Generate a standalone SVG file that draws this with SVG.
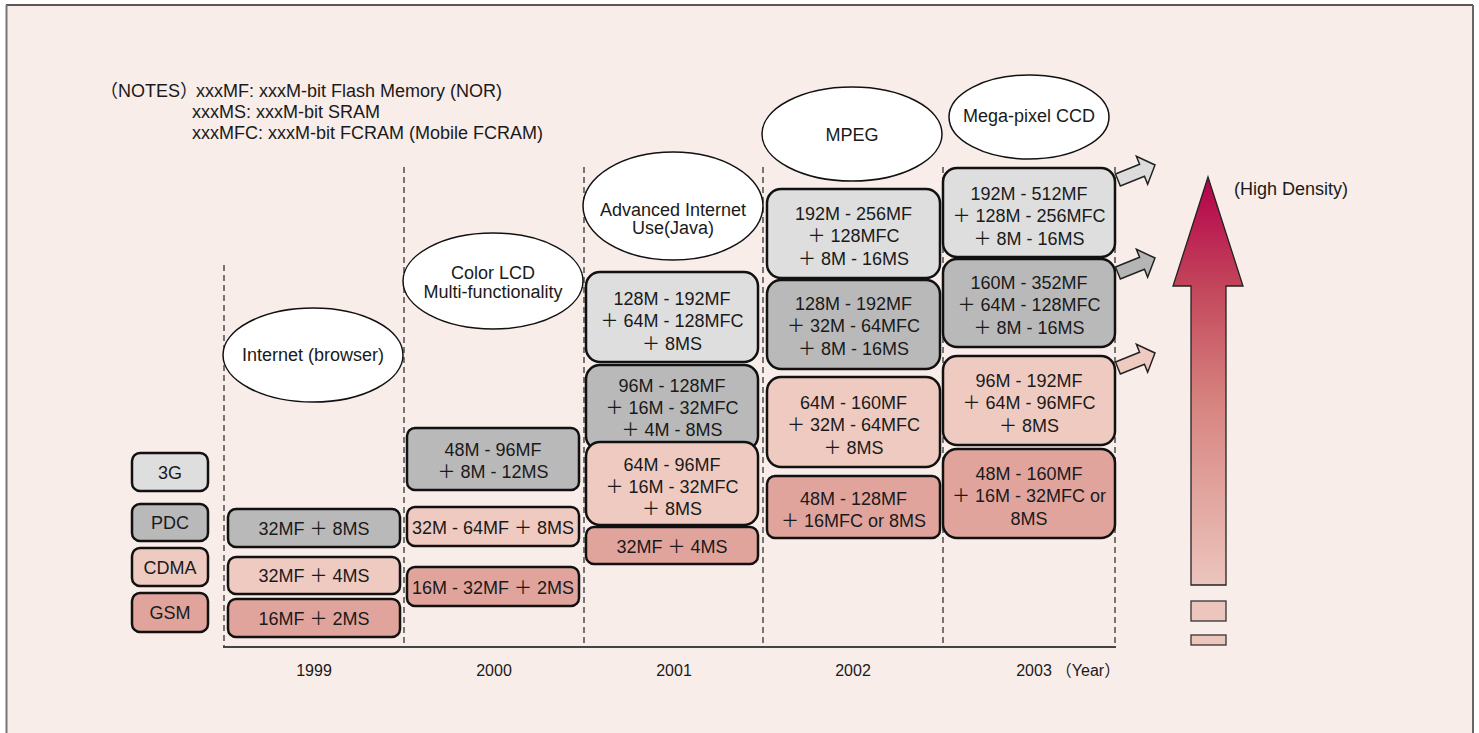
<svg xmlns="http://www.w3.org/2000/svg" width="1479" height="733" viewBox="0 0 1479 733">
<defs>
<style>
.t{font-family:"Liberation Sans","Noto Sans CJK JP",sans-serif;font-size:18px;fill:#1a1a1a}
.c{text-anchor:middle}
.yr{font-size:16px}
.box{stroke:#111;stroke-width:2.5}
.g3{fill:#dedede}
.pdc{fill:#b9b9b9}
.cdma{fill:#efcac1}
.gsm{fill:#e0a49d}
.ell{fill:#fff;stroke:#111;stroke-width:1.5}
.dash{stroke:#333;stroke-width:1.3;stroke-dasharray:6,4;fill:none}
.sa{stroke:#222;stroke-width:1.5}
</style>
<linearGradient id="grad" gradientUnits="userSpaceOnUse" x1="0" y1="177" x2="0" y2="585">
<stop offset="0" stop-color="#b4004a"/>
<stop offset="0.27" stop-color="#c3465b"/>
<stop offset="0.55" stop-color="#d7837f"/>
<stop offset="1" stop-color="#ecc5bd"/>
</linearGradient>
<path id="sarrow" d="M-40,-6.5 L-14,-6.5 L-14,-15 L0,0 L-14,15 L-14,6.5 L-40,6.5 Z"/>
</defs>
<rect x="0" y="0" width="1479" height="733" fill="#fff"/>
<rect x="6" y="5" width="1467" height="740" fill="#f8ede9"/>
<line x1="6" y1="5" x2="1473" y2="5" stroke="#222" stroke-width="1.5"/>
<line x1="6.5" y1="5" x2="6.5" y2="733" stroke="#777" stroke-width="2"/>
<line x1="1473" y1="5" x2="1473" y2="733" stroke="#666" stroke-width="2"/>

<g id="notes" class="t">
<text y="97"><tspan x="100">（NOTES）</tspan><tspan x="196">xxxMF: xxxM-bit Flash Memory (NOR)</tspan></text>
<text x="192" y="118">xxxMS: xxxM-bit SRAM</text>
<text x="192" y="139">xxxMFC: xxxM-bit FCRAM (Mobile FCRAM)</text>
</g>

<g id="connectors">
<line class="dash" x1="224" y1="265" x2="224" y2="647"/>
<line class="dash" x1="404" y1="167" x2="404" y2="647"/>
<line class="dash" x1="584" y1="167" x2="584" y2="647"/>
<line class="dash" x1="763" y1="167" x2="763" y2="647"/>
<line class="dash" x1="943" y1="167" x2="943" y2="647"/>
<line class="dash" x1="1115" y1="167" x2="1115" y2="647"/>
<line x1="223" y1="647" x2="1116" y2="647" stroke="#444" stroke-width="2"/>
</g>

<g id="years" class="t yr c">
<text x="314" y="676">1999</text>
<text x="494" y="676">2000</text>
<text x="674" y="676">2001</text>
<text x="853" y="676">2002</text>
<text x="1034" y="676">2003</text>
<text x="1088" y="676">（Year）</text>
</g>

<g id="legend-3g"><rect class="box g3" x="132" y="453" width="76" height="38" rx="8"/><text class="t c" x="170" y="478.5">3G</text></g>
<g id="legend-pdc"><rect class="box pdc" x="132" y="504" width="76" height="37" rx="8"/><text class="t c" x="170" y="529">PDC</text></g>
<g id="legend-cdma"><rect class="box cdma" x="132" y="548" width="76" height="38" rx="8"/><text class="t c" x="170" y="573.5">CDMA</text></g>
<g id="legend-gsm"><rect class="box gsm" x="132" y="593" width="76" height="39" rx="8"/><text class="t c" x="170" y="619">GSM</text></g>

<g id="ell-1999"><ellipse class="ell" cx="313" cy="355" rx="90" ry="47"/><text class="t c" x="313" y="361">Internet (browser)</text></g>
<g id="ell-2000"><ellipse class="ell" cx="493" cy="281" rx="90" ry="48"/><text class="t c" x="493" y="279">Color LCD</text><text class="t c" x="493" y="298">Multi-functionality</text></g>
<g id="ell-2001"><ellipse class="ell" cx="673" cy="206" rx="90" ry="54"/><text class="t c" x="673" y="216">Advanced Internet</text><text class="t c" x="673" y="234">Use(Java)</text></g>
<g id="ell-2002"><ellipse class="ell" cx="852" cy="134" rx="90" ry="47"/><text class="t c" x="852" y="140.5">MPEG</text></g>
<g id="ell-2003"><ellipse class="ell" cx="1029" cy="117" rx="80" ry="42"/><text class="t c" x="1029" y="122">Mega-pixel CCD</text></g>

<g id="b1999-pdc"><rect class="box pdc" x="228" y="509" width="172" height="38" rx="8"/><text class="t c" x="314" y="534.5">32MF ＋ 8MS</text></g>
<g id="b1999-cdma"><rect class="box cdma" x="228" y="557" width="172" height="37" rx="8"/><text class="t c" x="314" y="582">32MF ＋ 4MS</text></g>
<g id="b1999-gsm"><rect class="box gsm" x="228" y="599" width="172" height="38" rx="8"/><text class="t c" x="314" y="624.5">16MF ＋ 2MS</text></g>

<g id="b2000-pdc"><rect class="box pdc" x="407" y="428" width="172" height="62" rx="8"/><text class="t c" x="493" y="455.5">48M - 96MF</text><text class="t c" x="493" y="477.5">＋ 8M - 12MS</text></g>
<g id="b2000-cdma"><rect class="box cdma" x="407" y="507" width="172" height="39" rx="8"/><text class="t c" x="493" y="533.5">32M - 64MF ＋ 8MS</text></g>
<g id="b2000-gsm"><rect class="box gsm" x="407" y="567" width="172" height="39" rx="8"/><text class="t c" x="493" y="593.5">16M - 32MF ＋ 2MS</text></g>

<g id="b2001-3g"><rect class="box g3" x="586" y="272" width="172" height="90" rx="14"/><text class="t c" x="672" y="304.5">128M - 192MF</text><text class="t c" x="672" y="327">＋ 64M - 128MFC</text><text class="t c" x="672" y="349.5">＋ 8MS</text></g>
<g id="b2001-pdc"><rect class="box pdc" x="586" y="365" width="172" height="85" rx="14"/><text class="t c" x="672" y="391.5">96M - 128MF</text><text class="t c" x="672" y="413.5">＋ 16M - 32MFC</text><text class="t c" x="672" y="435.5">＋ 4M - 8MS</text></g>
<g id="b2001-cdma"><rect class="box cdma" x="586" y="442" width="172" height="83" rx="14"/><text class="t c" x="672" y="470.5">64M - 96MF</text><text class="t c" x="672" y="492.5">＋ 16M - 32MFC</text><text class="t c" x="672" y="514.5">＋ 8MS</text></g>
<g id="b2001-gsm"><rect class="box gsm" x="586" y="527" width="172" height="37" rx="8"/><text class="t c" x="672" y="552.5">32MF ＋ 4MS</text></g>

<g id="b2002-3g"><rect class="box g3" x="767" y="189" width="173" height="89" rx="14"/><text class="t c" x="853.5" y="219.5">192M - 256MF</text><text class="t c" x="853.5" y="242">＋ 128MFC</text><text class="t c" x="853.5" y="264.5">＋ 8M - 16MS</text></g>
<g id="b2002-pdc"><rect class="box pdc" x="767" y="280" width="173" height="89" rx="14"/><text class="t c" x="853.5" y="309.5">128M - 192MF</text><text class="t c" x="853.5" y="332">＋ 32M - 64MFC</text><text class="t c" x="853.5" y="354.5">＋ 8M - 16MS</text></g>
<g id="b2002-cdma"><rect class="box cdma" x="767" y="377" width="173" height="90" rx="14"/><text class="t c" x="853.5" y="408.5">64M - 160MF</text><text class="t c" x="853.5" y="431">＋ 32M - 64MFC</text><text class="t c" x="853.5" y="453.5">＋ 8MS</text></g>
<g id="b2002-gsm"><rect class="box gsm" x="767" y="476" width="173" height="62" rx="8"/><text class="t c" x="853.5" y="504.5">48M - 128MF</text><text class="t c" x="853.5" y="527">＋ 16MFC or 8MS</text></g>

<g id="b2003-3g"><rect class="box g3" x="943" y="168" width="172" height="89" rx="14"/><text class="t c" x="1029" y="199.5">192M - 512MF</text><text class="t c" x="1029" y="222">＋ 128M - 256MFC</text><text class="t c" x="1029" y="244.5">＋ 8M - 16MS</text></g>
<g id="b2003-pdc"><rect class="box pdc" x="943" y="259" width="172" height="88" rx="14"/><text class="t c" x="1029" y="288.5">160M - 352MF</text><text class="t c" x="1029" y="311">＋ 64M - 128MFC</text><text class="t c" x="1029" y="333.5">＋ 8M - 16MS</text></g>
<g id="b2003-cdma"><rect class="box cdma" x="943" y="356" width="172" height="89" rx="14"/><text class="t c" x="1029" y="386.5">96M - 192MF</text><text class="t c" x="1029" y="409">＋ 64M - 96MFC</text><text class="t c" x="1029" y="431.5">＋ 8MS</text></g>
<g id="b2003-gsm"><rect class="box gsm" x="943" y="449" width="172" height="89" rx="14"/><text class="t c" x="1029" y="479.5">48M - 160MF</text><text class="t c" x="1029" y="502">＋ 16M - 32MFC or</text><text class="t c" x="1029" y="524.5">8MS</text></g>

<g id="trend-arrows">
<use href="#sarrow" class="sa" fill="#dcdcdc" transform="translate(1155,165) rotate(-22)"/>
<use href="#sarrow" class="sa" fill="#b5b5b5" transform="translate(1155,258) rotate(-22)"/>
<use href="#sarrow" class="sa" fill="#efcac1" transform="translate(1155,353) rotate(-22)"/>
</g>

<g id="density-arrow">
<path d="M1208,177 L1243,286 L1226,286 L1226,585 L1191,585 L1191,286 L1173,286 Z" fill="url(#grad)" stroke="#222" stroke-width="1.3"/>
<rect x="1191" y="601" width="35" height="20" fill="#ecc6bd" stroke="#333" stroke-width="1.3"/>
<rect x="1191" y="635" width="35" height="10" fill="#ecc6bd" stroke="#333" stroke-width="1.3"/>
<text class="t" x="1234" y="195">(High Density)</text>
</g>
</svg>
